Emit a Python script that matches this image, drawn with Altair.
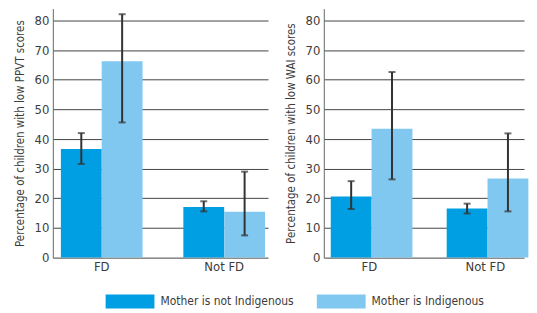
import altair as alt
import pandas as pd

fd_status = ["FD", "FD", "Not FD", "Not FD"]
mother = ["Mother is not Indigenous", "Mother is Indigenous",
          "Mother is not Indigenous", "Mother is Indigenous"]
mother_order = ["Mother is not Indigenous", "Mother is Indigenous"]
colors = ["#009fe3", "#80c8ef"]

ppvt_val = [36.6, 66.2, 17.1, 15.5]
ppvt_lo = [31.6, 45.6, 15.6, 7.5]
ppvt_hi = [42.0, 82.1, 19.0, 29.0]

wai_val = [20.6, 43.5, 16.6, 26.7]
wai_lo = [16.4, 26.4, 14.9, 15.6]
wai_hi = [25.8, 62.6, 18.2, 41.9]

y_ticks = [0, 10, 20, 30, 40, 50, 60, 70, 80]

FONT = "DejaVu Sans Condensed"


def panel(vals, lo, hi, ytitle, width, pad_outer, align):
    df = pd.DataFrame({"fd": fd_status, "mother": mother,
                       "val": vals, "lo": lo, "hi": hi})
    xenc = alt.X("fd:N", title=None,
                 scale=alt.Scale(paddingInner=0.333,
                                 paddingOuter=pad_outer, align=align),
                 axis=alt.Axis(labelAngle=0, ticks=False, labelPadding=3,
                               domain=False))
    xoff = alt.XOffset("mother:N", sort=mother_order,
                       scale=alt.Scale(paddingInner=0, paddingOuter=0))
    yscale = alt.Scale(domain=[0, 84], nice=False)
    yaxis = alt.Axis(values=y_ticks, ticks=False, grid=True, labelOverlap=False,
                     gridColor="#444", domainColor="#666",
                     labelPadding=4, titlePadding=9)
    base = alt.Chart(df).encode(x=xenc, xOffset=xoff)
    bars = base.mark_bar().encode(
        y=alt.Y("val:Q", title=ytitle, scale=yscale, axis=yaxis),
        color=alt.Color("mother:N", sort=mother_order,
                        scale=alt.Scale(domain=mother_order, range=colors),
                        legend=alt.Legend(
                            title=None, orient="none", direction="horizontal",
                            legendX=53, legendY=287,
                            symbolType="M-1,-1H6V1H-1Z", symbolSize=196,
                            symbolStrokeWidth=0, symbolOpacity=1,
                            labelFontSize=12,
                            labelOffset=41, columnPadding=23)),
    )
    rule = base.mark_rule(color="#333", strokeWidth=2).encode(
        y=alt.Y("lo:Q", title=ytitle, scale=yscale, axis=yaxis), y2="hi:Q")
    cap_hi = base.mark_tick(orient="horizontal", size=7, thickness=2,
                            color="#333").encode(
        y=alt.Y("hi:Q", title=ytitle, scale=yscale, axis=yaxis))
    cap_lo = base.mark_tick(orient="horizontal", size=7, thickness=2,
                            color="#333").encode(
        y=alt.Y("lo:Q", title=ytitle, scale=yscale, axis=yaxis))
    return alt.layer(bars, rule, cap_hi, cap_lo).properties(width=width, height=250)


left = panel(ppvt_val, ppvt_lo, ppvt_hi,
             "Percentage of children with low PPVT scores", 216, 0.045, 0.73)
right = panel(wai_val, wai_lo, wai_hi,
              "Percentage of children with low WAI scores", 201, 0.03, 1)

chart = alt.hconcat(left, right, spacing=17).properties(
    padding={"left": 6, "top": 0, "right": 0, "bottom": 0}
).configure_view(stroke=None).configure_axis(
    labelFont=FONT, titleFont=FONT, labelFontSize=13, titleFontSize=11.5,
    labelColor="#3c3c3c", titleColor="#3c3c3c", titleFontWeight="normal"
).configure_legend(labelFont=FONT, labelColor="#3c3c3c")

chart.save("out.html", embed_options={"renderer": "svg", "actions": False})
